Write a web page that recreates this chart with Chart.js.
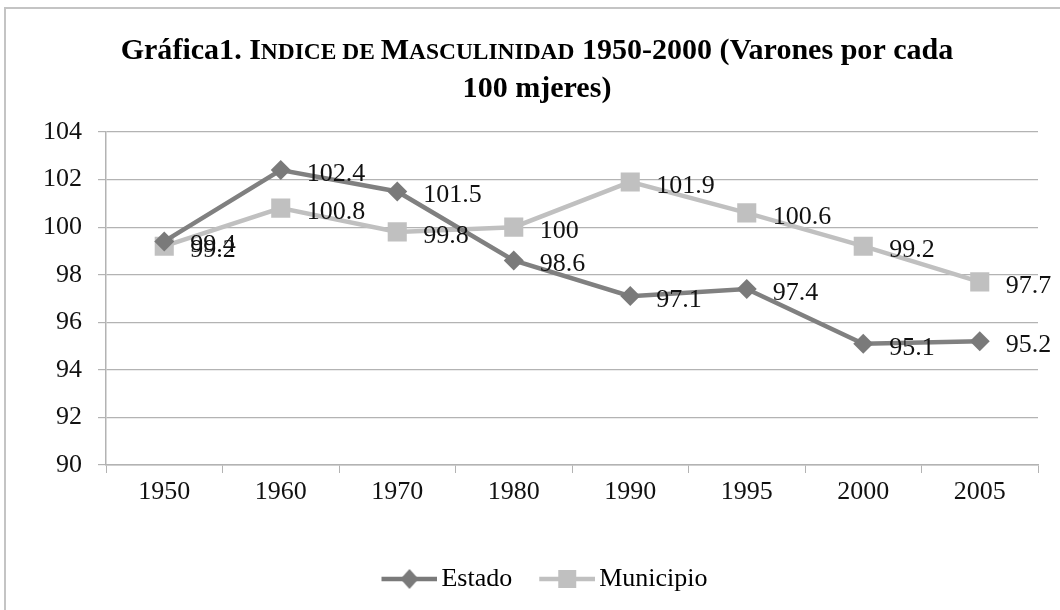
<!DOCTYPE html>
<html>
<head>
<meta charset="utf-8">
<script src="https://cdn.jsdelivr.net/npm/chart.js@4.4.1/dist/chart.umd.min.js"></script>
<style>
  body { margin: 0; background: #fff; }
  #frame { position: absolute; left: 4px; top: 7px; width: 1060px; height: 610px;
           border-left: 2px solid #c4c4c4; border-top: 2px solid #c4c4c4; }
  #wrap { position: absolute; left: 0; top: 0; width: 1060px; height: 610px; }
</style>
</head>
<body>
<div id="frame"></div>
<div id="wrap"><canvas id="myChart" width="1060" height="610"></canvas></div>
<script>
// categories and series
var years = ['1950', '1960', '1970', '1980', '1990', '1995', '2000', '2005'];
var estado = [99.4, 102.4, 101.5, 98.6, 97.1, 97.4, 95.1, 95.2];
var municipio = [99.2, 100.8, 99.8, 100, 101.9, 100.6, 99.2, 97.7];
var seriesNames = ['Estado', 'Municipio'];
var yMin = 90, yMax = 104, yStep = 2;

// title pieces: [text, small caps?]
var titleLine1 = [['Gráfica1. ', false], ['I', false], ['NDICE DE ', true], ['M', false], ['ASCULINIDAD', true], [' 1950-2000 (Varones por cada', false]];
var titleLine2 = '100 mjeres)';

var darkGray = '#808080';
var lightGray = '#c0c0c0';
var serif = "'Liberation Serif', 'DejaVu Serif', serif";
var titleFamily = "'Liberation Serif', 'DejaVu Serif', serif";
var fontSize = 26;

Chart.defaults.font.family = serif;
Chart.defaults.font.size = fontSize;
Chart.defaults.color = '#000';

//little canvas used as legend symbol: line with the marker in the middle
//the left 16px stay empty so the symbol sits closer to its own text
function legendSymbol(color, shape) {
    var c = document.createElement('canvas');
    c.width = 72;
    c.height = 22;
    var g = c.getContext('2d');
    g.strokeStyle = color;
    g.lineWidth = 4.5;
    g.beginPath();
    g.moveTo(16, 11);
    g.lineTo(72, 11);
    g.stroke();
    g.fillStyle = color;
    g.beginPath();
    if (shape == 'diamond') {
        g.moveTo(44, 1); g.lineTo(53, 11); g.lineTo(44, 21); g.lineTo(35, 11);
    } else {
        g.rect(35, 2, 18, 18);
    }
    g.closePath();
    g.fill();
    return c;
}

var symbols = [legendSymbol('#7a7a7a', 'diamond'), legendSymbol(lightGray, 'square')];

//draws the value next to every point
var valueLabels = {
    id: 'valueLabels',
    afterDatasetsDraw: function(chart) {
        var ctx = chart.ctx;
        ctx.save();
        ctx.font = fontSize + 'px ' + serif;
        ctx.fillStyle = '#111';
        ctx.textAlign = 'left';
        ctx.textBaseline = 'middle';
        chart.data.datasets.forEach(function(ds, i) {
            var meta = chart.getDatasetMeta(i);
            meta.data.forEach(function(pt, j) {
                ctx.fillText(String(ds.data[j]), pt.x + 26, pt.y + 4);
            });
        });
        ctx.restore();
    }
};

//title with small caps, fitted to the width of the original
var titlePlugin = {
    id: 'titlePlugin',
    afterDraw: function(chart) {
        var ctx = chart.ctx;
        var base = 28;
        var smallRatio = 0.78;
        ctx.save();
        ctx.fillStyle = '#000';
        ctx.textBaseline = 'alphabetic';
        ctx.textAlign = 'left';
        var measure = function(size) {
            var w = 0;
            titleLine1.forEach(function(p) {
                ctx.font = 'bold ' + (p[1] ? size * smallRatio : size) + 'px ' + titleFamily;
                w += ctx.measureText(p[0]).width;
            });
            return w;
        };
        var size = base * 833 / measure(base);
        if (size > 33) size = 33;
        var total = measure(size);
        var x = 537 - total / 2;
        titleLine1.forEach(function(p) {
            ctx.font = 'bold ' + (p[1] ? size * smallRatio : size) + 'px ' + titleFamily;
            ctx.fillText(p[0], x, 59);
            x += ctx.measureText(p[0]).width;
        });
        ctx.font = 'bold ' + size + 'px ' + titleFamily;
        ctx.textAlign = 'center';
        ctx.fillText(titleLine2, 537, 97);
        ctx.restore();
    }
};

var ctx = document.getElementById('myChart');
var myChart = new Chart(ctx, {
    type: 'line',
    data: {
        labels: years,
        datasets: [{
            label: seriesNames[0],
            data: estado,
            borderColor: darkGray,
            backgroundColor: '#7a7a7a',
            borderWidth: 4.5,
            pointStyle: 'rectRot',
            pointRadius: 10,
            pointBorderWidth: 0,
            pointBackgroundColor: '#7a7a7a',
            tension: 0
        }, {
            label: seriesNames[1],
            data: municipio,
            borderColor: lightGray,
            backgroundColor: lightGray,
            borderWidth: 4.5,
            pointStyle: 'rect',
            pointRadius: 13.5,
            pointBorderWidth: 0,
            pointBackgroundColor: lightGray,
            tension: 0
        }]
    },
    options: {
        responsive: false,
        animation: false,
        layout: { padding: { top: 132, right: 22, left: 44, bottom: 8 } },
        plugins: {
            title: { display: false },
            tooltip: { enabled: false },
            legend: {
                position: 'bottom',
                labels: {
                    usePointStyle: true,
                    pointStyleWidth: 54,
                    padding: 20,
                    font: { size: fontSize },
                    color: '#111',
                    generateLabels: function(chart) {
                        return chart.data.datasets.map(function(ds, i) {
                            return {
                                text: ds.label,
                                pointStyle: symbols[i],
                                fillStyle: ds.borderColor,
                                strokeStyle: ds.borderColor,
                                lineWidth: 0,
                                hidden: false,
                                datasetIndex: i
                            };
                        });
                    }
                }
            }
        },
        scales: {
            x: {
                offset: true,
                grid: {
                    offset: true,
                    drawOnChartArea: false,
                    drawTicks: true,
                    tickLength: 8,
                    color: '#b3b3b3'
                },
                border: { color: '#b3b3b3', width: 1.5 },
                ticks: { padding: 4, font: { size: fontSize }, color: '#111' },
                afterFit: function(scale) { scale.height = 81; }
            },
            y: {
                min: yMin,
                max: yMax,
                grid: { color: '#b3b3b3', tickLength: 8, lineWidth: 1.2 },
                border: { color: '#b3b3b3', width: 1.5 },
                ticks: { stepSize: yStep, padding: 16, font: { size: fontSize }, color: '#111' },
                afterFit: function(scale) { scale.width = 62; }
            }
        }
    },
    plugins: [valueLabels, titlePlugin]
});
</script>
</body>
</html>
